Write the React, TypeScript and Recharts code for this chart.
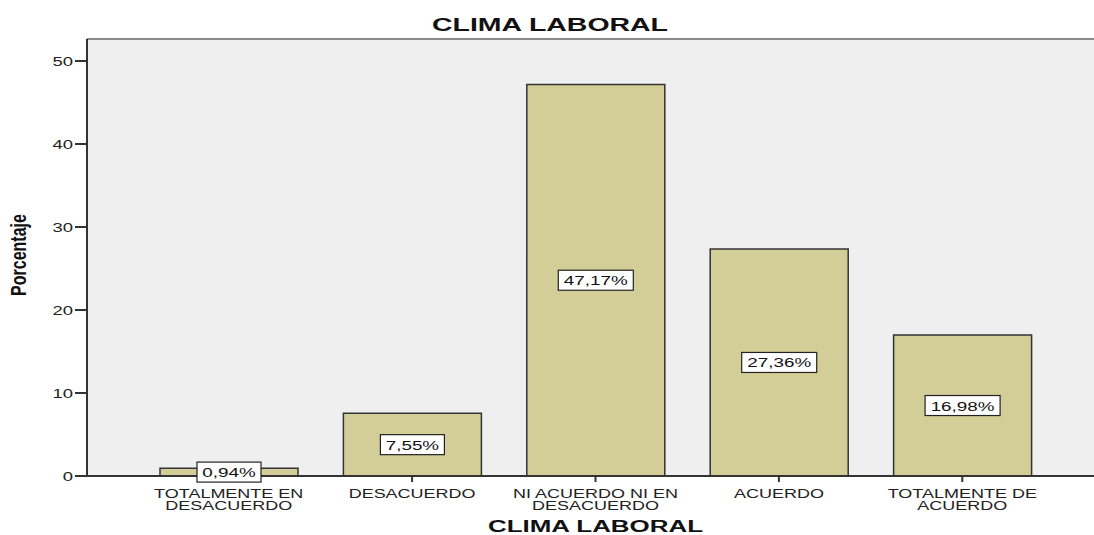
import React from 'react'
import { BarChart, Bar, XAxis, YAxis, CartesianGrid, LabelList, ReferenceLine } from 'recharts'

const categories = [
  'TOTALMENTE EN\nDESACUERDO',
  'DESACUERDO',
  'NI ACUERDO NI EN\nDESACUERDO',
  'ACUERDO',
  'TOTALMENTE DE\nACUERDO',
]
const percentages = [0.94, 7.55, 47.17, 27.36, 16.98]
const yTicks = [0, 10, 20, 30, 40, 50]

const data = categories.map((name, i) => ({ name, value: percentages[i] }))

const FONT = '"Liberation Sans", Arial, sans-serif'
const STRETCH = 1.42
const Y_MAX = 52.65

const fmt = (v: number) => v.toFixed(2).replace('.', ',') + '%'

const XTick = ({ x, y, payload }: any) => {
  const lines = String(payload.value).split('\n')
  return (
    <g>
      {lines.map((line: string, i: number) => (
        <text
          key={i}
          transform={`translate(${x},${y + 14 + i * 11.5}) scale(1.5,1)`}
          textAnchor="middle"
          fontFamily={FONT}
          fontSize={12}
          fill="#222"
        >
          {line}
        </text>
      ))}
    </g>
  )
}

const YTick = ({ x, y, payload }: any) => (
  <text
    transform={`translate(${x},${y + 5}) scale(${STRETCH},1)`}
    textAnchor="end"
    fontFamily={FONT}
    fontSize={13}
    fill="#222"
  >
    {payload.value}
  </text>
)

const ValueBox = ({ x, y, width, height, value }: any) => {
  const text = fmt(value)
  const cx = x + width / 2
  const cy = y + height / 2
  const w = text.length * 11 + 9
  return (
    <g>
      <rect x={cx - w / 2} y={cy - 10} width={w} height={20} fill="#fff" stroke="#222" strokeWidth={1.2} />
      <text
        transform={`translate(${cx},${cy + 5}) scale(1.45,1)`}
        textAnchor="middle"
        fontFamily={FONT}
        fontSize={13}
        fill="#111"
      >
        {text}
      </text>
    </g>
  )
}

export default function App() {
  return (
    <div style={{ position: 'relative', width: 1094, height: 535, background: '#fff', overflow: 'hidden' }}>
      <style>{'body{margin:0}'}</style>
      <BarChart
        width={1098}
        height={535}
        data={data}
        margin={{ top: 39, right: 0, bottom: 0, left: 0 }}
        barSize={138}
      >
        <CartesianGrid fill="#efefef" stroke="none" horizontal={false} vertical={false} />
        <ReferenceLine y={Y_MAX} stroke="#8a8a8a" strokeWidth={2} />
        <XAxis
          dataKey="name"
          interval={0}
          height={59}
          padding={{ left: 50, right: 44 }}
          tick={<XTick />}
          tickSize={6}
          axisLine={{ stroke: '#333', strokeWidth: 2 }}
          tickLine={{ stroke: '#333', strokeWidth: 2 }}
        />
        <YAxis
          type="number"
          domain={[0, Y_MAX]}
          ticks={yTicks}
          width={87}
          tickSize={12}
          tick={<YTick />}
          axisLine={{ stroke: '#333', strokeWidth: 2 }}
          tickLine={{ stroke: '#333', strokeWidth: 2 }}
          allowDataOverflow
        />
        <Bar dataKey="value" fill="#d3cd97" stroke="#333" strokeWidth={1.5} isAnimationActive={false}>
          <LabelList dataKey="value" content={<ValueBox />} />
        </Bar>
      </BarChart>
      <svg width={1094} height={535} style={{ position: 'absolute', left: 0, top: 0, pointerEvents: 'none' }}>
        <text
          x={432}
          y={31}
          textLength={236}
          lengthAdjust="spacingAndGlyphs"
          fontFamily={FONT}
          fontWeight="bold"
          fontSize={18}
          fill="#111"
        >
          CLIMA LABORAL
        </text>
        <text
          x={488}
          y={532}
          textLength={215}
          lengthAdjust="spacingAndGlyphs"
          fontFamily={FONT}
          fontWeight="bold"
          fontSize={16}
          fill="#111"
        >
          CLIMA LABORAL
        </text>
        <text
          transform="translate(26,255) scale(1.35,1) rotate(-90)"
          textAnchor="middle"
          fontFamily={FONT}
          fontWeight="bold"
          fontSize={16}
          fill="#111"
        >
          Porcentaje
        </text>
      </svg>
    </div>
  )
}
